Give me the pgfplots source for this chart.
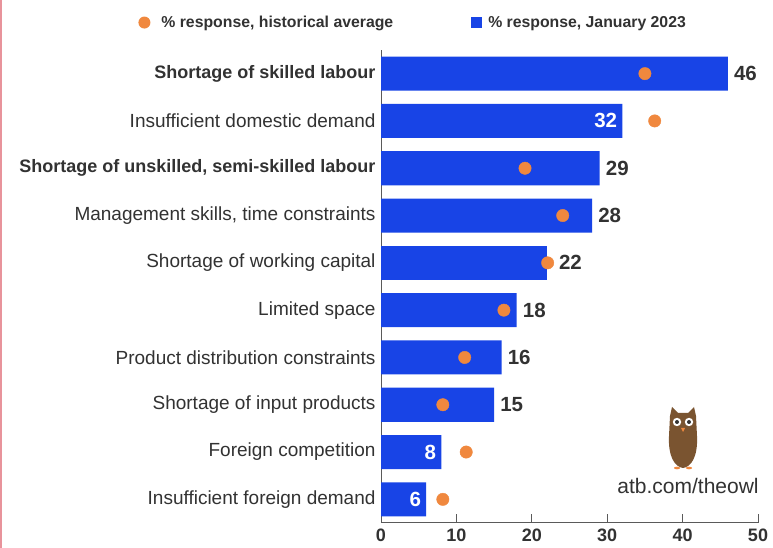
\documentclass[border=0pt]{standalone}
\usepackage{pgfplots}
\pgfplotsset{compat=1.18}
\usepackage{fontspec}
\setmainfont{Liberation Sans}
\definecolor{barc}{RGB}{24,68,230}
\definecolor{dotc}{RGB}{240,136,62}
\definecolor{txt}{RGB}{50,50,50}
\definecolor{axc}{RGB}{90,90,90}
\definecolor{redl}{RGB}{232,147,155}
\definecolor{owlb}{RGB}{122,84,48}
\begin{document}
\begin{tikzpicture}[x=1pt,y=1pt]
\useasboundingbox (0,0) rectangle (773,548);
\fill[white] (0,0) rectangle (773,548);
\fill[redl] (0,0) rectangle (1.6,548);
\begin{axis}[
  at={(381pt,25pt)}, anchor=south west,
  scale only axis, width=377pt, height=473pt,
  xmin=0, xmax=50, ymin=-0.5, ymax=9.5,
  axis lines*=left, axis line style={-, axc, line width=1pt},
  xtick={0,10,...,50}, xtick align=inside, major tick length=9pt,
  xtick style={axc, line width=1pt},
  ytick={0,...,9}, ytick style={draw=none},
  yticklabels={Insufficient foreign demand, Foreign competition, Shortage of input products, Product distribution constraints, Limited space, Shortage of working capital, {Management skills, time constraints}, {\fontsize{18}{20}\selectfont\textbf{Shortage of unskilled, semi-skilled labour}}, Insufficient domestic demand, {\fontsize{18}{20}\selectfont\textbf{Shortage of skilled labour}}},
  yticklabel style={font=\fontsize{19}{20}\selectfont, text=txt, xshift=-2pt},
  xticklabel style={font=\fontsize{18}{20}\selectfont\bfseries, text=txt, yshift=-2pt},
  /pgf/number format/assume math mode=true,
  bar width=0.72, bar shift=0pt,
  legend columns=2,
  legend style={at={(-0.644,1.058)}, anchor=west, draw=none, fill=none,
    font=\fontsize{15.8}{17}\selectfont\bfseries, text=txt, inner sep=0pt,
    /tikz/every even column/.append style={column sep=76pt}},
  legend cell align=left,
  clip=false,
]
\addlegendimage{legend image code/.code={\path[draw=none,fill=none] (0pt,-1pt) rectangle (21pt,1pt); \fill[dotc,draw=none] (6pt,0pt) circle (6pt);}}
\addlegendentry{\% response, historical average}
\addlegendimage{legend image code/.code={\path[draw=none,fill=none] (0pt,-1pt) rectangle (15pt,1pt); \fill[barc,draw=none] (0pt,-5.5pt) rectangle (11pt,5.5pt);}}
\addlegendentry{\% response, January 2023}
% bars with labels outside
\addplot[xbar, fill=barc, draw=none, forget plot,
  nodes near coords, nodes near coords style={anchor=west, inner sep=0pt, xshift=6pt, font=\fontsize{20.5}{22}\selectfont\bfseries, text=txt}]
  coordinates {(46,9) (29,7) (28,6) (18,4) (16,3) (15,2)};
% bar whose label moves past the dot at its end
\addplot[xbar, fill=barc, draw=none, forget plot,
  nodes near coords, nodes near coords style={anchor=west, inner sep=0pt, xshift=12pt, font=\fontsize{20.5}{22}\selectfont\bfseries, text=txt}]
  coordinates {(22,5)};
% bars with labels inside
\addplot[xbar, fill=barc, draw=none, forget plot,
  nodes near coords, nodes near coords style={anchor=east, inner sep=0pt, xshift=-5pt, font=\fontsize{20.5}{22}\selectfont\bfseries, text=white}]
  coordinates {(32,8) (8,1) (6,0)};
% historical averages
\addplot[only marks, mark=*, mark size=6.2pt, color=dotc, forget plot]
  coordinates {(35,9) (36.3,8) (19.1,7) (24.1,6) (22.1,5) (16.3,4) (11.1,3) (8.2,2) (11.3,1) (8.2,0)};
\end{axis}
% owl logo
\begin{scope}[shift={(683,107)}]
  \fill[owlb] (-13,25) -- (-11,34) -- (-5,28) -- (5,28) -- (11,34) -- (13,25) -- (14,5) .. controls (15,-16) and (8,-26) .. (0,-27) .. controls (-8,-26) and (-15,-16) .. (-14,5) -- cycle;
  \fill[white] (-6,19) circle (4.2);
  \fill[white] (6,19) circle (4.2);
  \fill[black!80] (-6,19) circle (2);
  \fill[black!80] (6,19) circle (2);
  \fill[dotc] (-2,13) -- (2,13) -- (0,9) -- cycle;
  \fill[dotc] (-6,-27) ellipse (3 and 1.3);
  \fill[dotc] (6,-27) ellipse (3 and 1.3);
\end{scope}
\node[anchor=center, font=\fontsize{21}{22}\selectfont, text=txt] at (688,62) {atb.com/theowl};
\end{tikzpicture}
\end{document}
